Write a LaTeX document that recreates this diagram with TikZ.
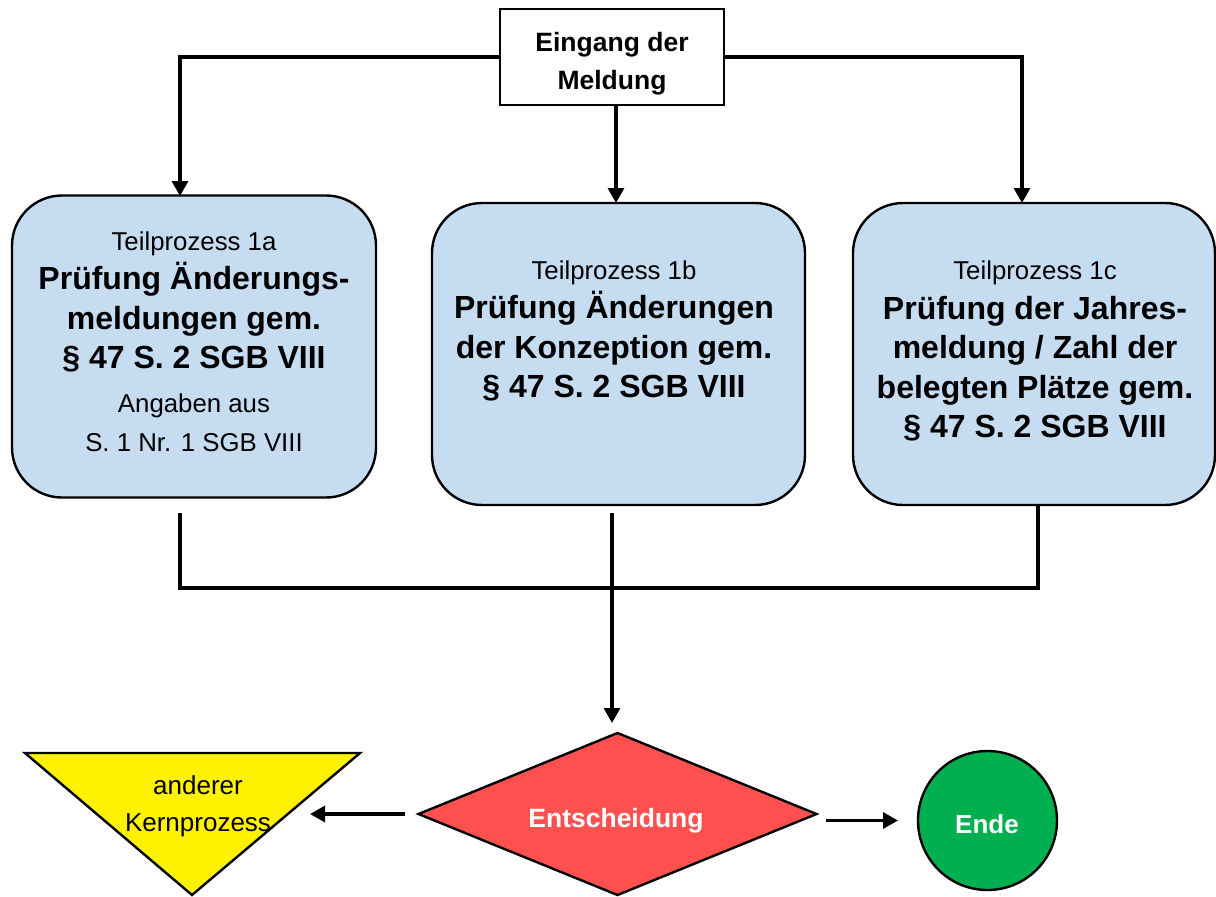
\documentclass[tikz,border=0pt]{standalone}
\usepackage{fontspec}
\setmainfont{Liberation Sans}
\usetikzlibrary{arrows.meta,shapes.geometric}
\definecolor{boxblue}{RGB}{198,220,240}
\definecolor{decred}{RGB}{255,80,80}
\definecolor{endgreen}{RGB}{0,176,80}
\begin{document}
\begin{tikzpicture}[x=0.5pt,y=-0.5pt,
  proc/.style={draw=black, line width=1.2pt, fill=boxblue, rounded corners=25pt,
    minimum height=151pt, inner sep=0pt},
  startbox/.style={draw=black, line width=1.2pt, fill=white, minimum width=112pt,
    minimum height=48pt, inner sep=0pt},
  lbl/.style={align=center, inner sep=0pt, font=\fontsize{12.9}{19.75}\selectfont},
  bld/.style={},
  conn/.style={line width=1.6pt},
  arr/.style={conn, -{Triangle[length=7.5pt,width=8pt]}},
  decision/.style={diamond, draw=black, line width=1.2pt, fill=decred, shape aspect=2.45,
    minimum width=199.5pt, minimum height=81.5pt, inner sep=0pt},
  endnode/.style={circle, draw=black, line width=1.2pt, fill=endgreen,
    minimum size=69.5pt, inner sep=0pt}
]
\useasboundingbox (0,0) rectangle (1216,896);

% start box
\node[startbox] (eingang) at (612,57) {};
\node[align=center, inner sep=0pt, font=\bfseries\fontsize{13.25}{19}\selectfont]
  (eingangtxt) at (612,64) {Eingang der\\Meldung};

% process boxes
\node[proc, minimum width=182pt] (tp1a) at (194,346.5) {};
\node[proc, minimum width=186.5pt] (tp1b) at (618.5,354) {};
\node[proc, minimum width=181pt] (tp1c) at (1034,354) {};

\node[lbl] (tp1atxt) at (194,342)
  {Teilprozess 1a\\
   {\bfseries\fontsize{16}{19.75}\selectfont Prüfung Änderungs-}\\
   {\bfseries\fontsize{16}{19.75}\selectfont meldungen gem.}\\
   {\bfseries\fontsize{16}{19.75}\selectfont § 47 S. 2 SGB VIII}\\[2pt]
   Angaben aus\\
   S. 1 Nr. 1 SGB VIII};
\node[lbl] (tp1btxt) at (614,331)
  {Teilprozess 1b\\
   {\bfseries\fontsize{16}{19.75}\selectfont Prüfung Änderungen}\\
   {\bfseries\fontsize{16}{19.75}\selectfont der Konzeption gem.}\\
   {\bfseries\fontsize{16}{19.75}\selectfont § 47 S. 2 SGB VIII}};
\node[lbl] (tp1ctxt) at (1035,351)
  {Teilprozess 1c\\
   {\bfseries\fontsize{16}{19.75}\selectfont Prüfung der Jahres-}\\
   {\bfseries\fontsize{16}{19.75}\selectfont meldung / Zahl der}\\
   {\bfseries\fontsize{16}{19.75}\selectfont belegten Plätze gem.}\\
   {\bfseries\fontsize{16}{19.75}\selectfont § 47 S. 2 SGB VIII}};

% decision
\node[decision] (entsch) at (617.5,814) {};
\node[inner sep=0pt, text=white, font=\bfseries\fontsize{13.25}{16}\selectfont]
  (entschtxt) at (616,821) {Entscheidung};

% end
\node[endnode] (ende) at (987.5,820.5) {};
\node[inner sep=0pt, text=white, font=\bfseries\fontsize{13}{16}\selectfont]
  (endetxt) at (987,824) {Ende};

% other core process (triangle)
\coordinate (trA) at (25,753);
\coordinate (trB) at (360,753);
\coordinate (trC) at (192,895);
\draw[line width=1.2pt, fill=yellow] (trA) -- (trB) -- (trC) -- cycle;
\node[align=center, inner sep=0pt, font=\fontsize{13}{18.5}\selectfont]
  (kerntxt) at (198,806) {anderer\\Kernprozess};

% connectors from start
\coordinate (in1a) at (180,196);
\coordinate (in1b) at (616,203);
\coordinate (in1c) at (1022,203);
\draw[arr] (eingang.west) -| (in1a);
\draw[arr] (eingang.south -| in1b) -- (in1b);
\draw[arr] (eingang.east) -| (in1c);

% merge lines
\coordinate (outa) at (180,513);
\coordinate (outb) at (612,513);
\coordinate (outc) at (1038,505);
\coordinate (joinL) at (180,588);
\coordinate (joinR) at (1038,588);
\coordinate (intoDec) at (612,723);
\draw[conn] (outa) -- (joinL) -- (joinR) -- (outc);
\draw[arr] (outb) -- (intoDec);

% decision exits
\coordinate (decL) at (405,814);
\coordinate (triR) at (310,814);
\coordinate (decR) at (826,820.5);
\coordinate (endL) at (898,820.5);
\draw[arr] (decL) -- (triR);
\draw[arr] (decR) -- (endL);
\end{tikzpicture}
\end{document}
